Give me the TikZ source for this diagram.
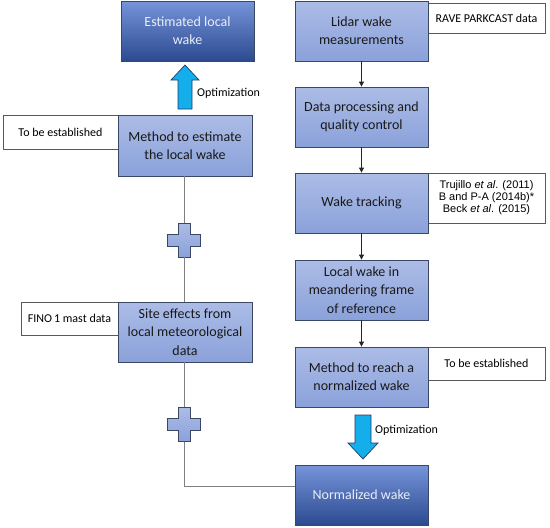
\documentclass[tikz,border=0pt]{standalone}
\usepackage{fontspec}
\setmainfont{Carlito}
\newfontfamily\arialf{Liberation Sans}
\usetikzlibrary{arrows.meta}
\definecolor{lighttop}{HTML}{ACBCE6}
\definecolor{lightbot}{HTML}{8AA1DA}
\definecolor{darktop}{HTML}{7694DA}
\definecolor{darkbot}{HTML}{2C4A90}
\definecolor{boxedge}{HTML}{3A4866}
\definecolor{cyanfill}{HTML}{14AEEA}
\definecolor{cyanedge}{HTML}{1F3B6E}
\definecolor{linegray}{HTML}{808080}
\definecolor{paletext}{HTML}{E8EEF8}
\begin{document}
\begin{tikzpicture}[x=1pt,y=-1pt,
  lightbox/.style={draw=boxedge, line width=0.8pt, top color=lighttop, bottom color=lightbot,
    minimum width=133pt, minimum height=60pt, inner sep=0pt, align=center,
    font=\fontsize{14}{18.3}\selectfont, text=black!90},
  darkbox/.style={lightbox, top color=darktop, bottom color=darkbot, text=paletext},
  sidebox/.style={draw=black!65, line width=0.6pt, fill=white, inner sep=0pt, align=center,
    font=\fontsize{12}{14}\selectfont},
  refbox/.style={sidebox, font=\arialf\fontsize{11}{12}\selectfont},
  plusnode/.style={minimum width=33pt, minimum height=34pt, inner sep=0pt},
  plusshape/.style={draw=boxedge, line width=0.8pt, top color=lighttop, bottom color=lightbot},
  bigarrow/.style={draw=cyanedge, line width=0.7pt, fill=cyanfill},
  flow/.style={draw=black!85, line width=0.8pt, -{Triangle[length=5pt,width=5pt]}},
  link/.style={draw=linegray, line width=1pt},
  optlabel/.style={font=\fontsize{12}{14}\selectfont, anchor=west, inner sep=0pt}
]
\useasboundingbox (0,0) rectangle (550,528);

% side boxes (drawn first, behind main boxes)
\node[sidebox, minimum width=117pt, minimum height=30pt] (rave) at (486.5,18) {RAVE PARKCAST data};
\node[refbox, minimum width=117pt, minimum height=50pt] (refs) at (486.5,198)
  {Trujillo \textit{et al}. (2011)\\B and P-A (2014b)*\\Beck \textit{et al}. (2015)};
\node[sidebox, minimum width=117pt, minimum height=33pt] (tbe2) at (486.5,363.5) {To be established};
\node[sidebox, minimum width=115pt, minimum height=34pt] (tbe1) at (60.5,132) {To be established};
\node[sidebox, minimum width=97pt, minimum height=33pt] (fino) at (69.5,318.5) {FINO\,1 mast data};

% right column
\node[lightbox] (lidar) at (361.5,31) {Lidar wake\\measurements};
\node[lightbox] (data) at (361.5,117) {Data processing and\\quality control};
\node[lightbox] (track) at (361.5,203) {Wake tracking};
\node[lightbox] (local) at (361.5,290) {Local wake in\\meandering frame\\of reference};
\node[lightbox] (reach) at (361.5,377) {Method to reach a\\normalized wake};
\node[darkbox] (norm) at (361.5,495) {Normalized wake};

% left column
\node[darkbox] (est) at (187.5,31) {Estimated local\\wake};
\node[lightbox, minimum width=134pt, minimum height=61pt] (meth) at (185,145.5) {Method to estimate\\the local wake};
\node[lightbox, minimum width=134pt] (site) at (185,332) {Site effects from\\local meteorological\\data};

% plus signs
\node[plusnode] (p1) at (184,240) {};
\node[plusnode] (p2) at (184,424.5) {};
\foreach \p in {p1,p2}{
  \draw[plusshape, shift={(\p.center)}] (-6,-17) -- (6,-17) -- (6,-6) -- (16.5,-6) -- (16.5,6)
    -- (6,6) -- (6,17) -- (-6,17) -- (-6,6) -- (-16.5,6) -- (-16.5,-6) -- (-6,-6) -- cycle;
}

% gray links
\draw[link] (meth.south -| p1.north) -- (p1.north);
\draw[link] (p1.south) -- (site.north -| p1.south);
\draw[link] (site.south -| p2.north) -- (p2.north);
\draw[link] (p2.south) |- ([yshift=9pt]norm.west);

% flow arrows
\draw[flow] (lidar.south) -- (data.north);
\draw[flow] (data.south) -- (track.north);
\draw[flow] (track.south) -- (local.north);
\draw[flow] (local.south) -- (reach.north);

% optimization arrows
\coordinate (upopt) at (185,87);
\draw[bigarrow, shift={(upopt)}] (0,-22) -- (14,-7) -- (7,-7) -- (7,22) -- (-7,22) -- (-7,-7) -- (-14,-7) -- cycle;
\node[optlabel] (opt1) at (197,93) {Optimization};
\coordinate (downopt) at (363,437);
\draw[bigarrow, shift={(downopt)}] (0,22) -- (15,6) -- (8,6) -- (8,-22) -- (-8,-22) -- (-8,6) -- (-15,6) -- cycle;
\node[optlabel] (opt2) at (375,430) {Optimization};
\end{tikzpicture}
\end{document}
